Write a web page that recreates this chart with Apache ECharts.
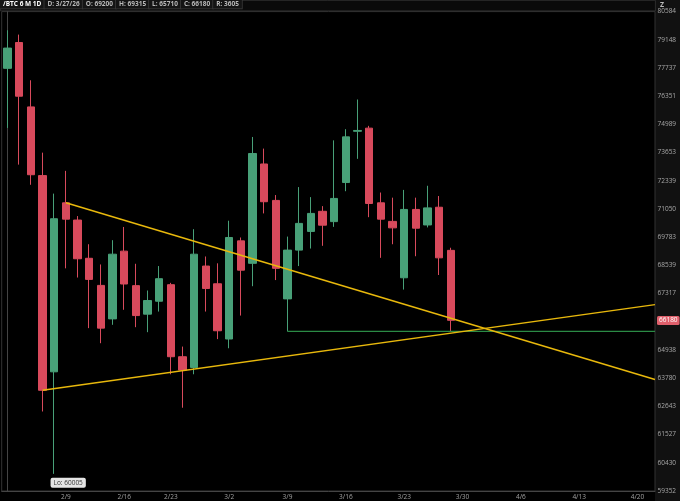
<!DOCTYPE html>
<html><head><meta charset="utf-8">
<script src="https://cdn.jsdelivr.net/npm/echarts@6/dist/echarts.min.js"></script>
<style>html,body{margin:0;padding:0;background:#000;}#c{width:680px;height:501px;}</style>
</head><body><div id="c"></div>
<script>
// trading-day categories (CME futures, weekdays; 2/16 holiday)
const dates = ['2/2','2/3','2/4','2/5','2/6','2/9','2/10','2/11','2/12','2/13',
  '2/17','2/18','2/19','2/20','2/23','2/24','2/25','2/26','2/27',
  '3/2','3/3','3/4','3/5','3/6','3/9','3/10','3/11','3/12','3/13',
  '3/16','3/17','3/18','3/19','3/20','3/23','3/24','3/25','3/26','3/27',
  '3/30','3/31','4/1','4/2','4/3','4/6','4/7','4/8','4/9','4/10',
  '4/13','4/14','4/15','4/16','4/17','4/20','4/21'];
const opens  = [77720,79010,75830,72580,64040,71330,70550,68850,67670,66240,
  69165,67660,66440,66990,67700,64660,64220,68510,67740,
  65395,69620,68630,73120,71440,67090,69210,70040,70945,70480,
  72260,74660,74810,71330,70490,68000,71030,70330,71130,69200];
const highs  = [79630,79410,77130,73650,71750,72800,70730,69470,68580,69650,
  70240,68610,67450,68510,67780,65080,70140,68930,68630,
  70520,69770,74390,73840,71685,69810,72050,71590,71180,74230,
  74760,76190,74920,71800,71565,71920,71565,72110,71640,69315];
const lows   = [74820,73090,72155,62440,60005,68410,68010,65850,65220,65990,
  66625,65890,65680,66550,63940,62590,63940,66550,65390,
  65010,66380,67635,70850,67900,65710,68510,69280,69400,70245,
  71860,73360,70680,68870,69470,67490,68940,70220,68120,65710];
const closes = [78730,76350,72620,63290,70610,70590,68830,67930,65850,69030,
  67730,66380,67020,67960,64660,64110,69030,67535,65740,
  69770,68330,73610,71380,68410,69210,70400,70850,70320,71530,
  74395,74700,71300,70590,70200,71030,70185,71100,68870,66180];

// log-scaled price axis tick labels, bottom to top (tick under the price tag is hidden)
const yTickLabels = ['59352','60430','61527','62643','63780','64938','','67317','68539',
  '69783','71050','72339','73653','74989','76351','77737','79148','80584'];
const xTickDates  = ['2/9','2/17','2/23','3/2','3/9','3/16','3/23','3/30','4/6','4/13','4/20'];
const xTickLabels = ['2/9','2/16','2/23','3/2','3/9','3/16','3/23','3/30','4/6','4/13','4/20'];

const headerFields = ['/BTC 6 M 1D','D: 3/27/26','O: 69200','H: 69315','L: 65710','C: 66180','R: 3605'];

// drawn lines
const trendADates = ['2/9','4/21'];  const trendAPrices = [71330, 63800];
const trendBDates = ['2/5','4/21'];  const trendBPrices = [63290, 66810];
const supportDate = '3/9';           const supportPrice = 65710;
const lowDate = '2/6';               const lowPrice = 60005;

const baseP = Number(yTickLabels[0]);
const topP = Number(yTickLabels[yTickLabels.length-1]);
const nSteps = yTickLabels.length - 1;
const stepLog = Math.log(topP/baseP)/nSteps;
const toAxis = p => Math.log(p/baseP)/stepLog;
const lastEdge = dates.length - 0.5;

function extendLine(ds, ps){
  const i0 = dates.indexOf(ds[0]), i1 = dates.indexOf(ds[1]);
  const y0 = toAxis(ps[0]), y1 = toAxis(ps[1]);
  const s = (y1-y0)/(i1-i0);
  return [[i0,y0],[lastEdge, y0 + s*(lastEdge-i0)]];
}

const candleData = opens.map((o,i)=>[toAxis(o),toAxis(closes[i]),toAxis(lows[i]),toAxis(highs[i])]);

const UP='#48a078', DOWN='#d84a5c', FONT='"Open Sans", "Noto Sans", sans-serif';

const headerText = headerFields.map((f,i)=>'{'+(i===0?'b':'n')+'|'+f+'}').join('');
const boxStyle = {fontSize:6.5, fontFamily:FONT, backgroundColor:'#141414', borderColor:'#3a3a3a',
  borderWidth:0.8, padding:[1.6,3,1.2,3], lineHeight:7};

const chart = echarts.init(document.getElementById('c'), null, {renderer:'canvas'});
chart.setOption({
  backgroundColor:'#000',
  animation:false,
  title:{left:0, top:0, padding:0, text:headerText,
    textStyle:{rich:{
      b:Object.assign({}, boxStyle, {color:'#ffffff', fontWeight:'bold'}),
      n:Object.assign({}, boxStyle, {color:'#b8b8b8'})
    }}},
  graphic:[
    {type:'rect', left:655, top:0, shape:{width:25, height:501}, style:{fill:'#111111'}, z:-10, silent:true},
    {type:'rect', left:0, top:0, shape:{width:655, height:10.5}, style:{fill:'#0a0a0a', stroke:'#333', lineWidth:0.8}, z:-5, silent:true},
    {type:'text', left:660, top:1, style:{text:'Z', fill:'#bbb', font:'bold 7px '+FONT}, silent:true}
  ],
  grid:{left:1.7, right:25, top:11.6, bottom:10, show:true, borderColor:'#333', borderWidth:1, backgroundColor:'#000'},
  xAxis:[
    {type:'category', data:dates, boundaryGap:true,
     axisLine:{lineStyle:{color:'#444'}}, axisTick:{show:false}, splitLine:{show:false},
     axisLabel:{interval:(i,v)=>xTickDates.includes(v), formatter:v=>{const k=xTickDates.indexOf(v);return k<0?'':xTickLabels[k];},
       fontSize:6.5, color:'#a0a0a0', margin:3, fontFamily:FONT}},
    {type:'value', min:-0.5, max:lastEdge, show:false}
  ],
  yAxis:{type:'value', position:'right', min:0, max:nSteps, interval:1, scale:false,
    axisLine:{show:true, lineStyle:{color:'#444'}}, axisTick:{show:false}, splitLine:{show:false},
    axisLabel:{formatter:v=>yTickLabels[Math.round(v)]||'', fontSize:6.5, color:'#a8a8a8', margin:2.5, fontFamily:FONT}},
  series:[
    {type:'candlestick', xAxisIndex:0, data:candleData, barWidth:8,
     itemStyle:{color:UP, color0:DOWN, borderColor:UP, borderColor0:DOWN, borderWidth:1},
     markLine:{silent:true, symbol:'none', lineStyle:{width:0, color:'transparent'},
       label:{show:true, position:'end', distance:2, formatter:()=>String(closes[closes.length-1]),
         backgroundColor:'#e0606c', color:'#fff', fontSize:6.5, padding:[1,2], borderRadius:1.5, fontFamily:FONT},
       data:[{yAxis:toAxis(closes[closes.length-1])}]},
     markPoint:{silent:true, symbol:'circle', symbolSize:0,
       label:{show:true, formatter:()=>'Lo: '+lowPrice, position:'inside', offset:[14,9],
         backgroundColor:'#e4e4e4', color:'#333', fontSize:6.5, padding:[1.5,3], borderRadius:2, fontFamily:FONT},
       data:[{coord:[lowDate, toAxis(lowPrice)]}]}
    },
    {type:'line', xAxisIndex:1, data:[[dates.indexOf(supportDate), toAxis(supportPrice)],[lastEdge, toAxis(supportPrice)]],
     symbol:'none', lineStyle:{color:'#2b8a45', width:1.2}, z:3, silent:true},
    {type:'line', xAxisIndex:1, data:extendLine(trendADates, trendAPrices),
     symbol:'none', lineStyle:{color:'#e8b80c', width:1.5}, z:4, silent:true},
    {type:'line', xAxisIndex:1, data:extendLine(trendBDates, trendBPrices),
     symbol:'none', lineStyle:{color:'#e8b80c', width:1.5}, z:4, silent:true}
  ]
});
</script></body></html>
